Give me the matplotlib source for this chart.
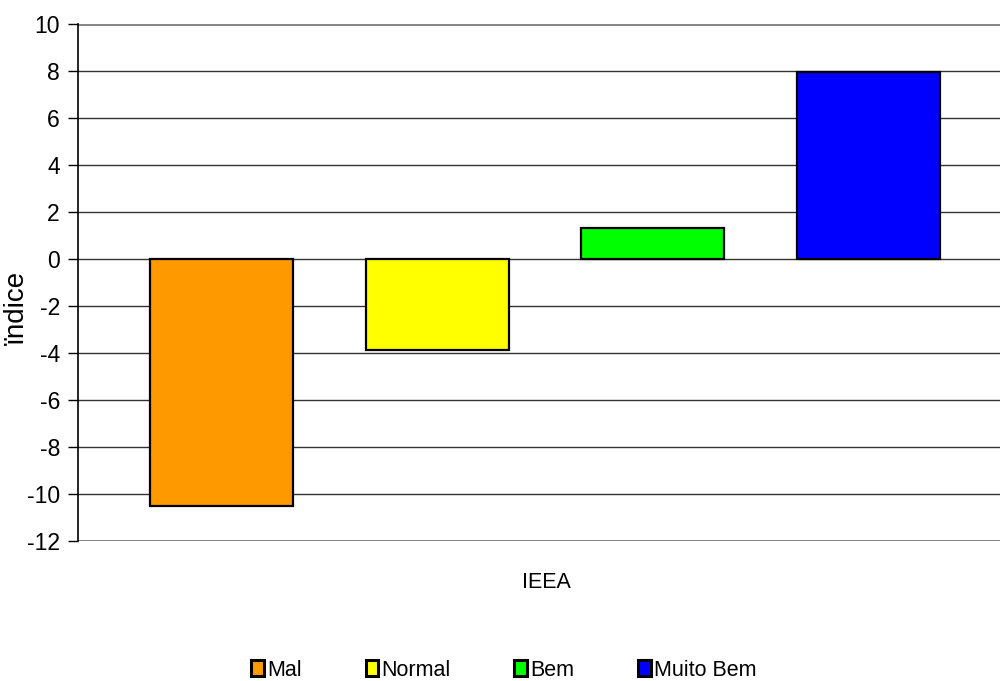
import matplotlib.pyplot as plt
from matplotlib.patches import Patch
import numpy as np

plt.rcParams['font.family'] = ['Liberation Sans', 'DejaVu Sans']

# valores do indice por classe
classes = ['Mal', 'Normal', 'Bem', 'Muito Bem']
valores = [-10.5, -3.87, 1.32, 7.96]
cores = ['#FF9900', '#FFFF00', '#00FF00', '#0000FF']
grupo = 'IEEA'
yticks = list(range(-12, 11, 2))

fig = plt.figure(figsize=(10, 6.81), dpi=100)
# a area do grafico passa um pouco da borda direita
ax = fig.add_axes([0.078, 1 - 541 / 681, 0.934, 517 / 681])

pos = np.arange(len(classes))
ax.bar(pos, valores, width=0.664, color=cores, edgecolor='black',
       linewidth=1.6, zorder=3)

ax.set_xlim(-0.666, 3.666)
ax.set_ylim(-12, 10)
ax.set_yticks(yticks)
ax.set_yticklabels([str(v) for v in yticks], fontsize=16.5)

# linhas de grade
for v in yticks:
    if v in (-12, 10):
        ax.axhline(v, color='#888888', linewidth=2.2, zorder=1)
    else:
        ax.axhline(v, color='#333333', linewidth=1.0, zorder=1)

for s in ['top', 'right', 'bottom']:
    ax.spines[s].set_visible(False)
ax.spines['left'].set_linewidth(1.2)
ax.spines['left'].set_zorder(4)
ax.tick_params(axis='y', direction='out', length=7, width=1.0, pad=6)
ax.set_xticks([])

fig.text(0.017, 1 - 308 / 681, 'ïndice', fontsize=20, rotation=90,
         ha='center', va='center')
fig.text(0.546, 1 - 583 / 681, grupo, fontsize=15.5, ha='center', va='center')

handles = [Patch(facecolor=c, edgecolor='black', linewidth=2.2) for c in cores]
fig.legend(handles, classes, loc='center', bbox_to_anchor=(0.504, 1 - 670 / 681),
           ncol=4, frameon=False, fontsize=15.5, handlelength=0.6,
           handleheight=0.8, handletextpad=0.15, columnspacing=2.95,
           borderpad=0.2)

fig.savefig('out.png', dpi=100)
